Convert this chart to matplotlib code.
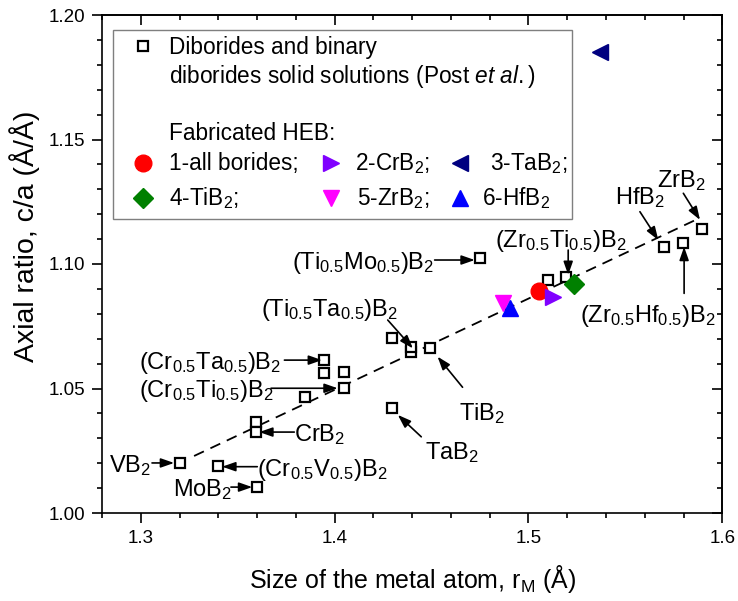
import matplotlib
matplotlib.use("Agg")
import matplotlib.pyplot as plt
from matplotlib.ticker import MultipleLocator, FormatStrFormatter
import matplotlib.patches as mpatches

plt.rcParams['font.family'] = ['Liberation Sans', 'DejaVu Sans']
plt.rcParams['mathtext.fontset'] = 'custom'
plt.rcParams['mathtext.rm'] = 'Liberation Sans'
plt.rcParams['mathtext.it'] = 'Liberation Sans:italic'
plt.rcParams['mathtext.default'] = 'regular'

# diborides and binary solid solutions (Post et al.)
post_r = [1.320, 1.340, 1.360, 1.3594, 1.3594, 1.3848, 1.4047, 1.3947, 1.3947, 1.4047,
          1.4295, 1.4395, 1.4395, 1.4490, 1.4295, 1.4748, 1.5101, 1.5196, 1.5699, 1.5799, 1.5897]
post_ca = [1.0201, 1.0189, 1.0104, 1.0367, 1.0327, 1.0467, 1.0501, 1.0614, 1.0563, 1.0567,
           1.0702, 1.0648, 1.0668, 1.0661, 1.0420, 1.1023, 1.0936, 1.0949, 1.1067, 1.1086, 1.1141]

# fabricated HEB
heb_labels = ['1-all borides;', '2-CrB$_2$;', '3-TaB$_2$;', '4-TiB$_2$;', '5-ZrB$_2$;', '6-HfB$_2$']
heb_r = [1.5053, 1.5127, 1.5369, 1.5234, 1.4869, 1.4903]
heb_ca = [1.0893, 1.0869, 1.1853, 1.0920, 1.0842, 1.0822]

# linear trend
fit_r = [1.3275, 1.5876]
fit_ca = [1.0229, 1.1182]

heb_style = [('o', '#ff0000', 12), ('>', '#8000ff', 12), ('<', '#000080', 12),
             ('D', '#008000', 10), ('v', '#ff00ff', 12), ('^', '#0000ff', 12)]

fig = plt.figure(figsize=(7.38, 6.01), dpi=100)
ax = fig.add_axes([102/738, 88/601, 620.3/738, 498/601])

ax.plot(fit_r, fit_ca, color='k', lw=1.3, ls=(0, (6, 4)), zorder=1)
ax.plot(post_r, post_ca, ls='none', marker='s', ms=7, mfc='white', mec='k', mew=1.6, zorder=3)
for r, c, (m, col, s) in zip(heb_r, heb_ca, heb_style):
    ax.plot(r, c, ls='none', marker=m, ms=s, color=col, mec=col, zorder=4)

# labels: text, (x, baseline), arrow tail, arrow tip
notes = [
    ('VB$_2$', (1.2836, 1.0165), (1.3058, 1.0201), (1.3172, 1.0201)),
    ('(Cr$_{0.5}$V$_{0.5}$)B$_2$', (1.3601, 1.0150), (1.3601, 1.0186), (1.3420, 1.0186)),
    ('MoB$_2$', (1.3167, 1.0068), (1.3465, 1.0104), (1.3575, 1.0104)),
    ('CrB$_2$', (1.3792, 1.0289), (1.3792, 1.0325), (1.3611, 1.0325)),
    ('(Cr$_{0.5}$Ti$_{0.5}$)B$_2$', (1.2991, 1.0465), (1.3672, 1.0501), (1.4016, 1.0501)),
    ('(Cr$_{0.5}$Ta$_{0.5}$)B$_2$', (1.2991, 1.0578), (1.3741, 1.0614), (1.3935, 1.0614)),
    ('(Ti$_{0.5}$Ta$_{0.5}$)B$_2$', (1.3622, 1.0791), (1.4274, 1.0775), (1.4404, 1.0661)),
    ('TiB$_2$', (1.4640, 1.0375), (1.4660, 1.0505), (1.4531, 1.0628)),
    ('TaB$_2$', (1.4464, 1.0217), (1.4447, 1.0306), (1.4326, 1.0394)),
    ('(Ti$_{0.5}$Mo$_{0.5}$)B$_2$', (1.3780, 1.0980), (1.4516, 1.1016), (1.4723, 1.1016)),
    ('(Zr$_{0.5}$Ti$_{0.5}$)B$_2$', (1.4826, 1.1068), (1.5205, 1.1056), (1.5205, 1.0956)),
    ('HfB$_2$', (1.5446, 1.1241), (1.5575, 1.1210), (1.5670, 1.1096)),
    ('ZrB$_2$', (1.5662, 1.1309), (1.5799, 1.1284), (1.5885, 1.1177)),
    ('(Zr$_{0.5}$Hf$_{0.5}$)B$_2$', (1.5265, 1.0767), (1.5803, 1.0882), (1.5803, 1.1069)),
]
for txt, pos, tail, tip in notes:
    ax.text(pos[0], pos[1], txt, fontsize=17, ha='left', va='baseline')
    ax.annotate('', xy=tip, xytext=tail,
                arrowprops=dict(arrowstyle='-|>,head_length=0.8,head_width=0.28',
                                color='k', lw=1.2, mutation_scale=10,
                                shrinkA=0, shrinkB=0))

# legend box drawn by hand
box = mpatches.Rectangle((0.0177, 0.5904), 0.74, 0.3795, transform=ax.transAxes,
                         fc='white', ec='#7f7f7f', lw=1.0, zorder=5)
ax.add_patch(box)
lfs = 16.3
ax.plot(0.0666, 0.9378, transform=ax.transAxes, marker='s', ms=7, mfc='white',
        mec='k', mew=1.6, zorder=6)
ax.text(0.108, 0.9217, 'Diborides and binary', transform=ax.transAxes, fontsize=lfs,
        va='baseline', zorder=6)
ax.text(0.108, 0.8641, 'diborides solid solutions (Post $\\mathit{et\\ al.}$)',
        transform=ax.transAxes, fontsize=lfs, va='baseline', zorder=6)
ax.text(0.108, 0.749, 'Fabricated HEB:', transform=ax.transAxes, fontsize=lfs,
        va='baseline', zorder=6)
leg_mx = [0.0656, 0.369, 0.577, 0.0656, 0.369, 0.577]
leg_my = [0.7034, 0.7034, 0.7034, 0.6319, 0.6319, 0.6319]
leg_tx = [0.108, 0.408, 0.6255, 0.108, 0.411, 0.612]
leg_ty = [0.6888, 0.6888, 0.6888, 0.6185, 0.6185, 0.6185]
for i, (m, col, s) in enumerate(heb_style):
    ax.plot(leg_mx[i], leg_my[i], transform=ax.transAxes, marker=m, ms=s, color=col,
            mec=col, zorder=6)
    ax.text(leg_tx[i], leg_ty[i], heb_labels[i], transform=ax.transAxes, fontsize=lfs,
            va='baseline', zorder=6)

ax.set_xlim(1.28, 1.6)
ax.set_ylim(1.0, 1.2)
ax.xaxis.set_major_locator(MultipleLocator(0.1))
ax.xaxis.set_minor_locator(MultipleLocator(0.02))
ax.yaxis.set_major_locator(MultipleLocator(0.05))
ax.yaxis.set_minor_locator(MultipleLocator(0.01))
ax.xaxis.set_major_formatter(FormatStrFormatter('%.1f'))
ax.yaxis.set_major_formatter(FormatStrFormatter('%.2f'))
ax.tick_params(which='major', direction='out', length=7.2, width=1.2, labelsize=13.5, pad=5)
ax.tick_params(which='minor', direction='out', length=3.6, width=1.2)
for sp in ax.spines.values():
    sp.set_linewidth(1.2)

sec_x = ax.secondary_xaxis('top')
sec_x.xaxis.set_major_locator(MultipleLocator(0.1))
sec_x.xaxis.set_minor_locator(MultipleLocator(0.02))
sec_x.tick_params(which='major', direction='in', length=7.2, width=1.2, labeltop=False)
sec_x.tick_params(which='minor', direction='in', length=3.6, width=1.2)
sec_y = ax.secondary_yaxis('right')
sec_y.yaxis.set_major_locator(MultipleLocator(0.05))
sec_y.yaxis.set_minor_locator(MultipleLocator(0.01))
sec_y.tick_params(which='major', direction='in', length=7.2, width=1.2, labelright=False)
sec_y.tick_params(which='minor', direction='in', length=3.6, width=1.2)
for s in (sec_x, sec_y):
    for sp in s.spines.values():
        sp.set_linewidth(1.2)

ax.set_xlabel('Size of the metal atom, r$_M$ (Å)', fontsize=18)
ax.set_ylabel('Axial ratio, c/a (Å/Å)', fontsize=20.5)
ax.xaxis.set_label_coords(0.5, -0.1)
ax.yaxis.set_label_coords(-0.1, 0.556)

fig.savefig('out.png', dpi=100)
